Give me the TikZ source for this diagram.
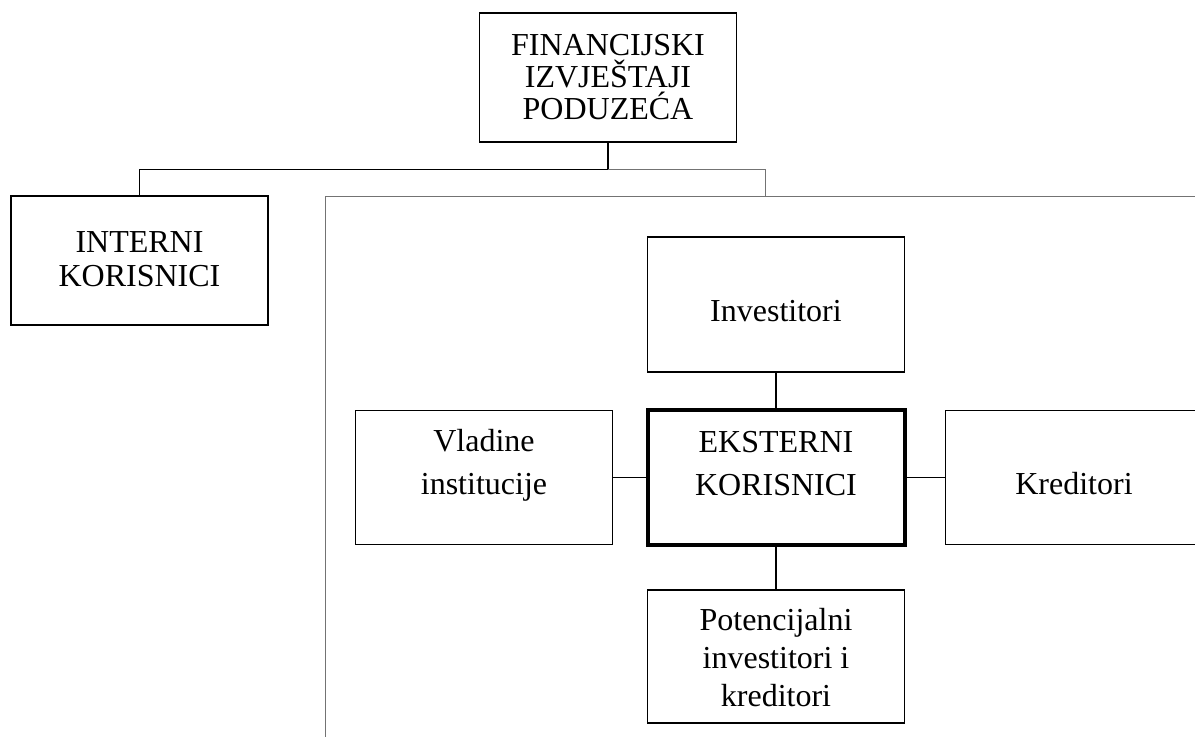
\documentclass[tikz,border=0pt]{standalone}
\usepackage{fontspec}
\setmainfont{Liberation Serif}

\begin{document}
\begin{tikzpicture}[x=0.5pt, y=-0.5pt,
  box/.style={draw, line width=0.8pt, minimum width=128.5pt, minimum height=67pt, inner sep=0pt},
  boxtext/.style={align=center, inner sep=0pt},
  link/.style={line width=0.8pt},
  faint/.style={line width=0.5pt, draw=black!55}]

\clip (0,0) rectangle (1195,736);

% frame round the external users
\draw[faint] (325,760) -- (325,196) -- (1220,196);

\node[box, minimum height=64.5pt] (fin) at (608,77.5) {};
\node[boxtext, font=\fontsize{16}{16}\selectfont] (fin-t) at (fin) {FINANCIJSKI\\IZVJEŠTAJI\\PODUZEĆA};

\node[box, minimum height=64.5pt] (interni) at (139.5,260.5) {};
\node[boxtext, font=\fontsize{16}{17}\selectfont, yshift=0.5pt] (interni-t) at (interni) {INTERNI\\KORISNICI};

\node[box, minimum height=67.5pt] (inv) at (776,304.5) {};
\node[boxtext, font=\fontsize{16}{19}\selectfont, yshift=-3.25pt] (inv-t) at (inv) {Investitori};

\node[box, line width=2pt, minimum height=67.5pt] (ekst) at (776,477.5) {};
\node[boxtext, font=\fontsize{16}{21.5}\selectfont, yshift=7pt] (ekst-t) at (ekst) {EKSTERNI\\KORISNICI};

\node[box] (vlad) at (484,477.5) {};
\node[boxtext, font=\fontsize{16}{21.5}\selectfont, yshift=6.25pt] (vlad-t) at (vlad) {Vladine\\institucije};

\node[box] (kred) at (1074,477.5) {};
\node[boxtext, font=\fontsize{16}{19}\selectfont, yshift=-3.25pt] (kred-t) at (kred) {Kreditori};

\node[box, minimum height=66.5pt] (pot) at (776,656.5) {};
\node[boxtext, font=\fontsize{16}{19}\selectfont, yshift=-0.75pt] (pot-t) at (pot) {Potencijalni\\investitori i\\kreditori};

% connectors
\coordinate (fork) at (608,169.5);
\coordinate (frametop) at (765,196);
\draw[link] (fin.south) -- (fork) -| (interni.north);
\draw[faint] (fork) -| (frametop);
\draw[link] (inv.south) -- (ekst.north);
\draw[link] (ekst.south) -- (pot.north);
\draw[link] (vlad.east) -- (ekst.west);
\draw[link] (ekst.east) -- (kred.west);

\end{tikzpicture}
\end{document}
